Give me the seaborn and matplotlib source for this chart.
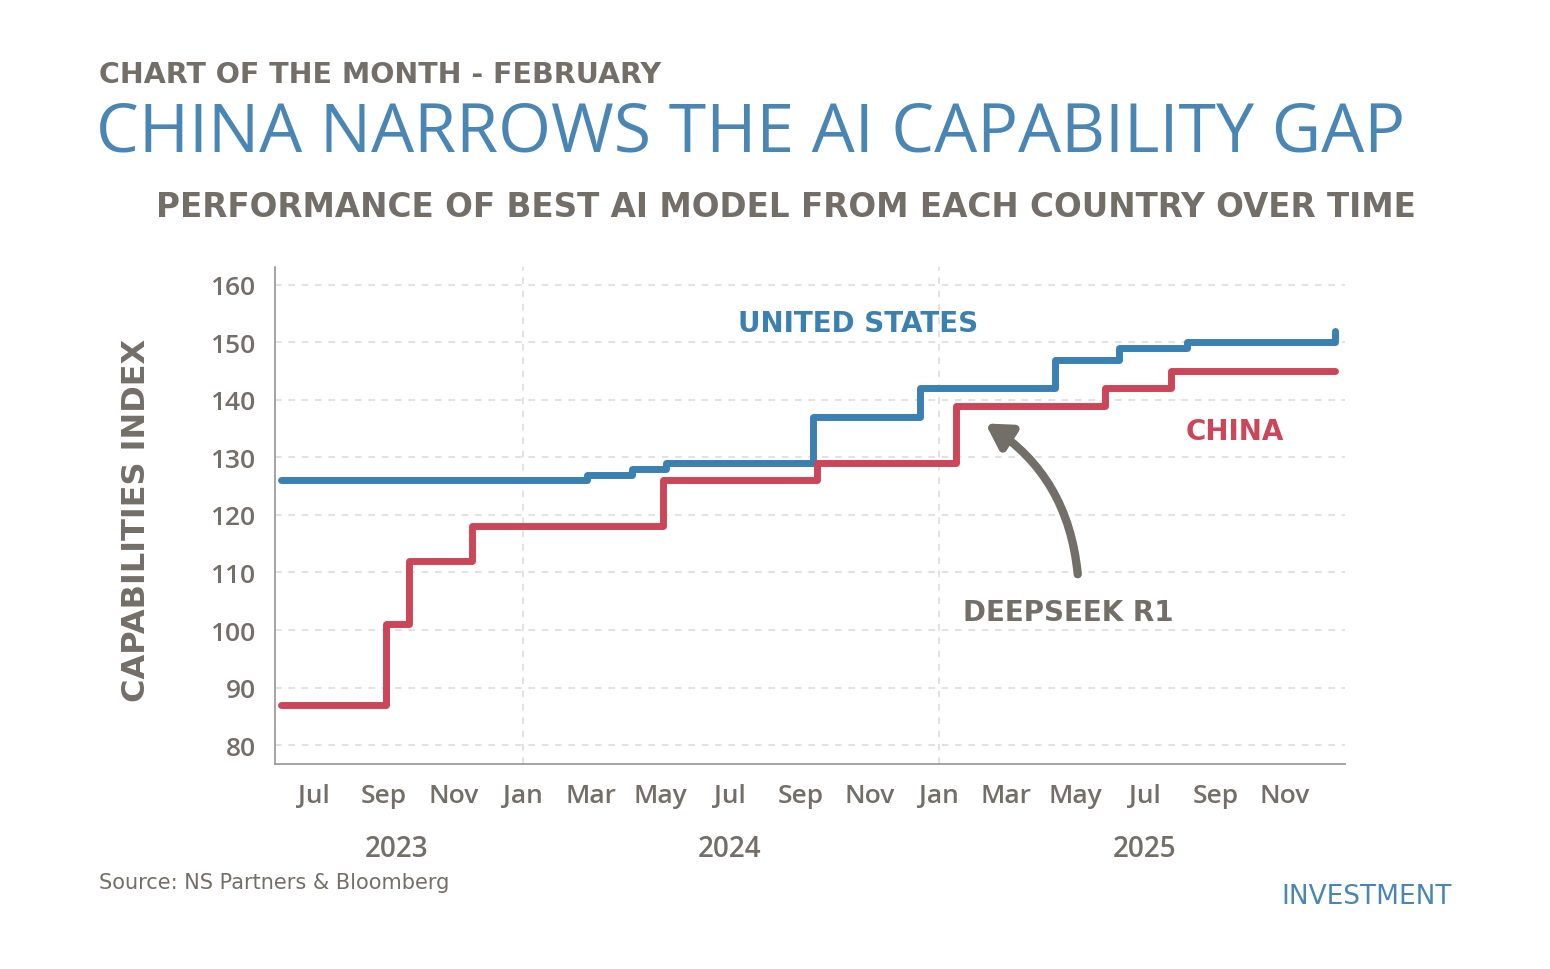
import matplotlib
matplotlib.use("Agg")
import matplotlib.pyplot as plt
import matplotlib.dates as mdates
import seaborn as sns
import pandas as pd

us_dates = ["2023-06-02","2024-02-26","2024-04-06","2024-05-06","2024-09-12","2024-12-15","2025-04-13","2025-06-08","2025-08-07","2025-12-14","2025-12-15"]
us_vals = [126,127,128,129,137,142,147,149,150,150,152]
cn_dates = ["2023-06-02","2023-09-03","2023-09-23","2023-11-17","2024-05-03","2024-09-16","2025-01-16","2025-05-27","2025-07-24","2025-12-15"]
cn_vals = [87,101,112,118,126,129,139,142,145,145]
year_labels = ["2023","2024","2025"]
year_pos = ["2023-09-12","2024-07-01","2025-07-01"]

sns.set_theme(style="white")
plt.rcParams['font.family'] = ['Open Sans', 'DejaVu Sans']
GRAY = "#736e68"; BLUE = "#3a80b1"; RED = "#cc4659"; TITLE = "#4a86b4"
DV = ['DejaVu Sans']

fig = plt.figure(figsize=(15.5, 9.7), dpi=100)
ax = fig.add_axes([0.1774, 0.2113, 0.6903, 0.5124])
us = pd.DataFrame({"date": pd.to_datetime(us_dates), "v": us_vals})
cn = pd.DataFrame({"date": pd.to_datetime(cn_dates), "v": cn_vals})
sns.lineplot(data=us, x="date", y="v", ax=ax, color=BLUE, lw=5, drawstyle="steps-post")
sns.lineplot(data=cn, x="date", y="v", ax=ax, color=RED, lw=5, drawstyle="steps-post")

ax.set_xlim(pd.Timestamp("2023-05-28"), pd.Timestamp("2025-12-24"))
ax.set_ylim(76.7, 163.1)
ax.set_yticks(range(80, 161, 10))
ax.xaxis.set_major_locator(mdates.MonthLocator(bymonth=[1,3,5,7,9,11]))
ax.xaxis.set_major_formatter(mdates.DateFormatter("%b"))
ax.grid(axis="y", ls=(0,(4,4)), color="#dddddd", lw=1.2)
for d in ["2024-01-01", "2025-01-01"]:
    ax.axvline(pd.Timestamp(d), ls=(0,(4,4)), color="#dddddd", lw=1.2, zorder=0)
for s in ["top", "right"]:
    ax.spines[s].set_visible(False)
for s in ["left", "bottom"]:
    ax.spines[s].set_color("#999999")
ax.tick_params(axis="both", colors=GRAY, labelsize=19, length=6, width=1, color="#999999", pad=8)
for l in ax.get_xticklabels() + ax.get_yticklabels():
    l.set_fontweight("semibold")
ax.set_xlabel(""); ax.set_ylabel("")
for lab, p in zip(year_labels, year_pos):
    ax.text(pd.Timestamp(p), -0.17, lab, transform=ax.get_xaxis_transform(), ha="center", va="center",
            fontsize=20, color=GRAY, fontweight="semibold")

fig.text(0.088, 0.463, "CAPABILITIES INDEX", rotation=90, ha="center", va="center", fontsize=23,
         color=GRAY, fontweight="bold", family=DV)
fig.text(0.476, 0.666, "UNITED STATES", fontsize=20, color=BLUE, fontweight="bold", ha="left", va="center", family=DV)
fig.text(0.765, 0.555, "CHINA", fontsize=20, color=RED, fontweight="bold", ha="left", va="center", family=DV)
fig.text(0.621, 0.368, "DEEPSEEK R1", fontsize=20, color=GRAY, fontweight="bold", ha="left", va="center", family=DV)
ax.annotate("", xy=(983/1550, 1-423/970), xytext=(1078/1550, 1-578/970), xycoords="figure fraction",
            textcoords="figure fraction",
            arrowprops=dict(arrowstyle="-|>,head_length=1.2,head_width=0.7", lw=6, color=GRAY,
                            connectionstyle="arc3,rad=0.25"))

fig.text(0.064, 0.923, "CHART OF THE MONTH - FEBRUARY", fontsize=20.5, color=GRAY, fontweight="bold", va="center", family=DV)
fig.text(0.062, 0.862, "CHINA NARROWS THE AI CAPABILITY GAP", fontsize=49, color=TITLE, va="center")
fig.text(0.507, 0.786, "PERFORMANCE OF BEST AI MODEL FROM EACH COUNTRY OVER TIME", fontsize=23.5, color=GRAY,
         fontweight="bold", ha="center", va="center", family=DV)
fig.text(0.064, 0.090, "Source: NS Partners & Bloomberg", fontsize=15, color=GRAY, va="center", family=DV)
fig.text(0.937, 0.075, "INVESTMENT", fontsize=19, color=TITLE, ha="right", va="center", family=DV)
fig.savefig("out.png", dpi=100)
